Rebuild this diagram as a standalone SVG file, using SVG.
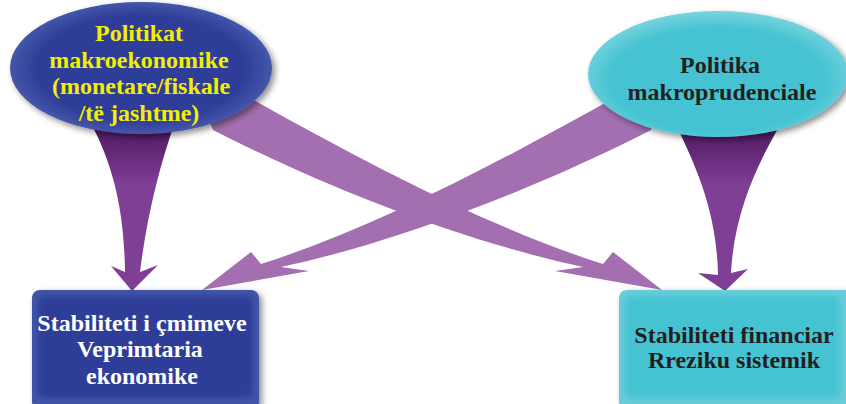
<svg xmlns="http://www.w3.org/2000/svg" width="846" height="404" viewBox="0 0 846 404">
<style>
.t{font-family:"Liberation Serif","Times New Roman",serif;font-weight:bold;text-anchor:middle}
.y{fill:#f2f000;font-size:24px}
.d{fill:#231f20;font-size:24px}
.w{fill:#ffffff;font-size:24px}
.diag{fill:#a36fb0}
.vert{fill:url(#vg)}
</style>
<defs>
<filter id="sh" x="-10%" y="-10%" width="125%" height="130%">
<feDropShadow dx="3" dy="3" stdDeviation="3" flood-color="#000" flood-opacity="0.45"/>
</filter>
<filter id="bl" x="-10%" y="-10%" width="120%" height="120%">
<feGaussianBlur stdDeviation="3"/>
</filter>
<linearGradient id="vg" x1="0" y1="125" x2="0" y2="185" gradientUnits="userSpaceOnUse">
<stop offset="0" stop-color="#4c1660"/>
<stop offset="1" stop-color="#7f3f95"/>
</linearGradient>
<radialGradient id="eb" cx="0.5" cy="0.5" r="0.5">
<stop offset="0.8" stop-color="#2f3e98"/>
<stop offset="1" stop-color="#4456aa"/>
</radialGradient>
<radialGradient id="ec" cx="0.5" cy="0.55" r="0.55">
<stop offset="0.75" stop-color="#45c3d2"/>
<stop offset="1" stop-color="#79d3de"/>
</radialGradient>
</defs>
<rect width="846" height="404" fill="#ffffff"/>
<g id="connectors">
<path class="vert" d="M92,125 C112,165 124,205 125,272 L111,266 L132,291 L158,265 L140,272 C147,215 160,165 174,125 Z"/>
<path class="vert" d="M676,125 C698,170 717,215 718,275 L698,273 L725,291 L748,269 L731,273 C734,210 760,160 780,125 Z"/>
<path class="diag" d="M250,98 C370,165 490,228 603,264 L613,252 L662,290 L555,271 L583,267 C470,243 330,190 213,130 L200,100 Z"/>
<path class="diag" transform="matrix(-1,0,0,1,864,0)" d="M250,98 C370,165 490,228 603,264 L613,252 L662,290 L555,271 L583,267 C470,243 330,190 213,130 L200,100 Z"/>
</g>
<g id="node-macro">
<ellipse cx="141" cy="68" rx="131" ry="66" fill="url(#eb)" filter="url(#sh)"/>
<text class="t y" x="139" y="40.5">Politikat</text>
<text class="t y" x="139" y="67.5">makroekonomike</text>
<text class="t y" x="141" y="94">(monetare/fiskale</text>
<text class="t y" x="139" y="120.5">/të jashtme)</text>
</g>
<g id="node-macroprud">
<ellipse cx="718" cy="74" rx="130" ry="63" fill="url(#ec)" filter="url(#sh)"/>
<text class="t d" x="720" y="73">Politika</text>
<text class="t d" x="722" y="100">makroprudenciale</text>
</g>
<g id="node-price">
<rect x="32" y="290" width="227" height="120" rx="8" fill="#4354a8" filter="url(#sh)"/>
<rect x="38" y="296" width="215" height="102" rx="6" fill="#2f3e97" filter="url(#bl)"/>
<text class="t w" x="142" y="331">Stabiliteti i çmimeve</text>
<text class="t w" x="140" y="357">Veprimtaria</text>
<text class="t w" x="142" y="384">ekonomike</text>
</g>
<g id="node-financial">
<rect x="619" y="290" width="235" height="120" rx="8" fill="#68cdd9" filter="url(#sh)"/>
<rect x="625" y="296" width="215" height="102" rx="6" fill="#45c3d2" filter="url(#bl)"/>
<text class="t d" x="734" y="343">Stabiliteti financiar</text>
<text class="t d" x="734" y="368">Rreziku sistemik</text>
</g>
</svg>
